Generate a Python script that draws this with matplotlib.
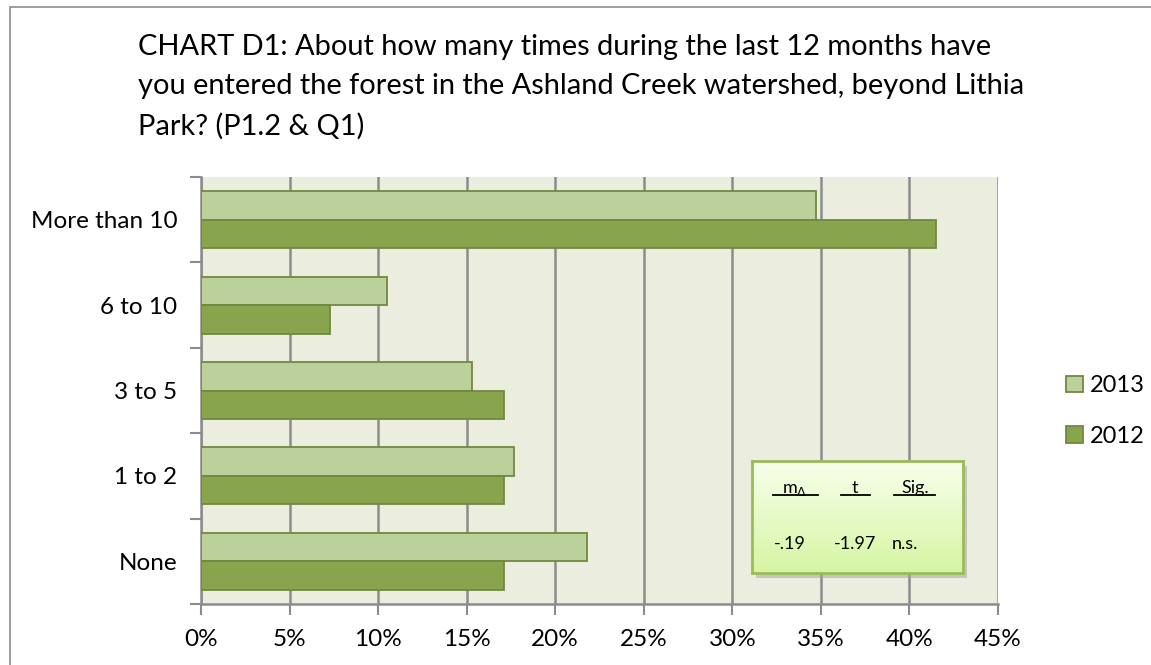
import matplotlib
matplotlib.use("Agg")
import matplotlib.pyplot as plt
import numpy as np
from matplotlib.patches import Rectangle
from matplotlib.lines import Line2D

categories = ["More than 10", "6 to 10", "3 to 5", "1 to 2", "None"]
values_2013 = [34.7, 10.5, 15.3, 17.7, 21.8]
values_2012 = [41.5, 7.3, 17.1, 17.1, 17.1]
series_names = ["2013", "2012"]
xticks = [0, 5, 10, 15, 20, 25, 30, 35, 40, 45]
stat_headers = ["m", "t", "Sig."]
stat_values = ["-.19", "-1.97", "n.s."]
title = ("CHART D1: About how many times during the last 12 months have\n"
         "you entered the forest in the Ashland Creek watershed, beyond Lithia\n"
         "Park? (P1.2 & Q1)")

W, H = 1151, 665
FONT = ["Lato", "DejaVu Sans"]
plt.rcParams['font.family'] = FONT

fig = plt.figure(figsize=(W / 100, H / 100), dpi=100)

def fx(px):
    return px / W

def fy(py):
    return 1 - py / H

# outer frame (left and top visible)
fig.patches.append(Rectangle((fx(10), fy(700)), fx(1200), (700 - 7) / H,
                             transform=fig.transFigure, fill=False,
                             edgecolor="#8c8c8c", lw=1.2, zorder=0))

fig.text(fx(138), fy(34), title, ha="left", va="top", fontsize=20.9,
         color="#000000", linespacing=1.63)

ax_l, ax_r, ax_t, ax_b = 201, 998, 177, 604
ax = fig.add_axes([fx(ax_l), fy(ax_b), fx(ax_r - ax_l), (ax_b - ax_t) / H])
ax.set_facecolor("#ebeedf")

n = len(categories)
ypos = np.arange(n)[::-1]
h = 1 / 3
c2013, c2012 = "#bbd09a", "#88a54e"
edge = "#71893f"
ax.barh(ypos + h / 2, values_2013, height=h, color=c2013, edgecolor=edge,
        lw=1.3, label=series_names[0], zorder=3)
ax.barh(ypos - h / 2, values_2012, height=h, color=c2012, edgecolor=edge,
        lw=1.3, label=series_names[1], zorder=3)

TFS = 17.5
ax.set_xlim(0, 45)
ax.set_ylim(-0.5, n - 0.5)
ax.set_xticks(xticks)
ax.set_xticklabels([f"{v}%" for v in xticks], fontsize=TFS)
ax.set_yticks(ypos)
ax.set_yticklabels(categories, fontsize=TFS)
ax.tick_params(axis="y", length=0, pad=17)
ax.set_yticks(np.arange(n + 1) - 0.5, minor=True)
ax.tick_params(axis="y", which="minor", length=8, color="#8c8c8c", width=1.5)
ax.tick_params(axis="x", length=8, color="#8c8c8c", width=1.5, pad=10)
ax.grid(axis="x", color="#8c8c8c", lw=1.8, zorder=1)
for s in ["top", "right"]:
    ax.spines[s].set_visible(False)
for s in ["left", "bottom"]:
    ax.spines[s].set_color("#8c8c8c")
    ax.spines[s].set_linewidth(1.8)

# legend
leg = fig.legend(loc="center left", bbox_to_anchor=(fx(1045), fy(411)),
                 frameon=False, fontsize=17, handlelength=0.7,
                 handleheight=0.7, handletextpad=0.3, labelspacing=1.25)

# stats box with gradient and shadow
bx0, bx1, by0, by1 = 752, 963, 461, 573
shadow = Rectangle((fx(bx0 + 4), fy(by1 + 5)), fx(bx1 - bx0), (by1 - by0) / H,
                   transform=fig.transFigure, facecolor="#a0a0a0", alpha=0.5,
                   edgecolor="none", zorder=4)
fig.patches.append(shadow)
bax = fig.add_axes([fx(bx0), fy(by1), fx(bx1 - bx0), (by1 - by0) / H])
bax.set_zorder(5)
grad = np.linspace(0, 1, 256)[:, None]
top_c = np.array([0xf7, 0xff, 0xec]) / 255
bot_c = np.array([0xd6, 0xf5, 0xa2]) / 255
img = top_c[None, None, :] * (1 - grad[:, :, None]) + bot_c[None, None, :] * grad[:, :, None]
bax.imshow(img, aspect="auto", extent=[0, 1, 0, 1], origin="upper")
bax.set_xlim(0, 1)
bax.set_ylim(0, 1)
bax.set_xticks([])
bax.set_yticks([])
for s in bax.spines.values():
    s.set_color("#9bbb59")
    s.set_linewidth(2)

def bxp(px):
    return (px - bx0) / (bx1 - bx0)

def byp(py):
    return 1 - (py - by0) / (by1 - by0)

fs = 13
bax.text(bxp(795), byp(493), r"m$_{\Delta}$", ha="center", va="baseline", fontsize=fs)
bax.text(bxp(855), byp(493), stat_headers[1], ha="center", va="baseline", fontsize=fs)
bax.text(bxp(915), byp(493), stat_headers[2], ha="center", va="baseline", fontsize=fs)
for x0, x1 in [(773, 818), (841, 870), (894, 935)]:
    bax.add_line(Line2D([bxp(x0), bxp(x1)], [byp(495), byp(495)], color="black", lw=1.3))
for xc, t in zip([790, 855, 905], stat_values):
    bax.text(bxp(xc), byp(549), t, ha="center", va="baseline", fontsize=fs)

fig.savefig("out.png", dpi=100)
